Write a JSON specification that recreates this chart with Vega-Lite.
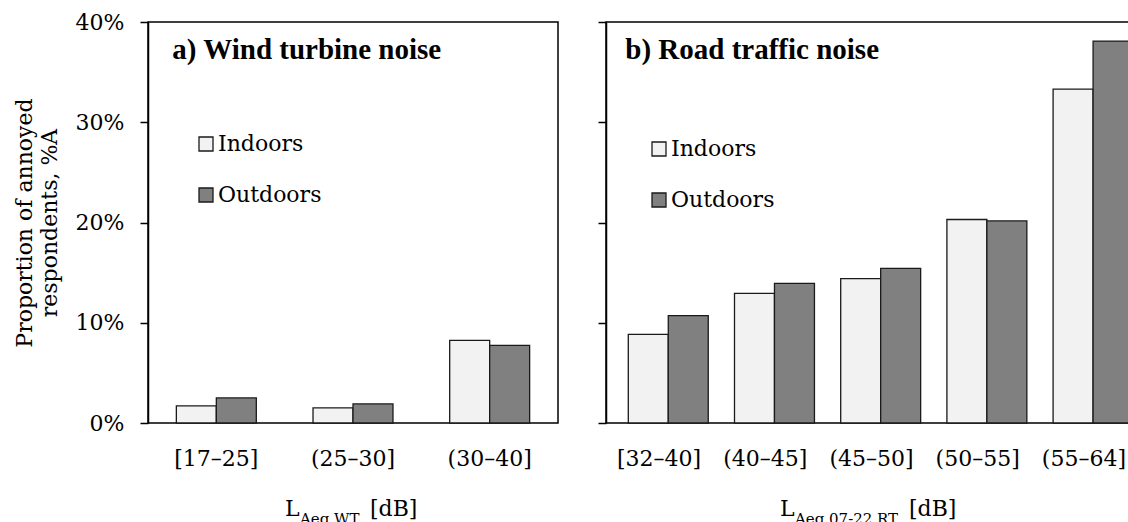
{
  "$schema": "https://vega.github.io/schema/vega-lite/v6.json",
  "padding": {"left": 12, "top": 10, "right": 0, "bottom": 0},
  "background": "white",
  "config": {
    "font": "DejaVu Serif",
    "view": {"stroke": "black", "strokeWidth": 1.5},
    "axis": {
      "grid": false,
      "domainColor": "black",
      "domainWidth": 1.5,
      "tickColor": "black",
      "tickWidth": 1.5,
      "labelColor": "black",
      "titleColor": "black",
      "labelFont": "DejaVu Serif",
      "titleFont": "DejaVu Serif",
      "labelFontSize": 22,
      "titleFontSize": 22,
      "titleFontWeight": "normal"
    },
    "legend": {
      "labelFont": "DejaVu Serif",
      "labelFontSize": 22,
      "labelColor": "black"
    },
    "title": {"font": "DejaVu Serif", "color": "black", "fontWeight": "normal"}
  },
  "datasets": {
    "bars": [
      {"panel": "a", "cat": "[17–25]", "loc": "Indoors", "val": 0.017},
      {"panel": "a", "cat": "[17–25]", "loc": "Outdoors", "val": 0.025},
      {"panel": "a", "cat": "(25–30]", "loc": "Indoors", "val": 0.015},
      {"panel": "a", "cat": "(25–30]", "loc": "Outdoors", "val": 0.019},
      {"panel": "a", "cat": "(30–40]", "loc": "Indoors", "val": 0.0825},
      {"panel": "a", "cat": "(30–40]", "loc": "Outdoors", "val": 0.0775},
      {"panel": "b", "cat": "[32–40]", "loc": "Indoors", "val": 0.0885},
      {"panel": "b", "cat": "[32–40]", "loc": "Outdoors", "val": 0.1072},
      {"panel": "b", "cat": "(40–45]", "loc": "Indoors", "val": 0.1294},
      {"panel": "b", "cat": "(40–45]", "loc": "Outdoors", "val": 0.1392},
      {"panel": "b", "cat": "(45–50]", "loc": "Indoors", "val": 0.1441},
      {"panel": "b", "cat": "(45–50]", "loc": "Outdoors", "val": 0.1542},
      {"panel": "b", "cat": "(50–55]", "loc": "Indoors", "val": 0.2030},
      {"panel": "b", "cat": "(50–55]", "loc": "Outdoors", "val": 0.2016},
      {"panel": "b", "cat": "(55–64]", "loc": "Indoors", "val": 0.333},
      {"panel": "b", "cat": "(55–64]", "loc": "Outdoors", "val": 0.381}
    ]
  },
  "spacing": 37,
  "resolve": {"scale": {"x": "independent", "y": "independent", "color": "independent"}, "legend": {"color": "independent"}},
  "hconcat": [
    {
      "width": 410,
      "height": 401,
      "title": {
        "text": "L\u2003\u2003\u2003\u2009[dB]",
        "subtitle": "\u200b\u2003Aeq,WT",
        "orient": "bottom",
        "anchor": "start",
        "frame": "group",
        "dx": 137,
        "offset": 30,
        "fontSize": 22,
        "subtitleFontSize": 15,
        "subtitleFont": "DejaVu Serif",
        "subtitleColor": "black",
        "subtitlePadding": -9
      },
      "layer": [
        {
          "data": {"name": "bars"},
          "transform": [{"filter": "datum.panel == 'a'"}],
          "mark": {"type": "bar", "stroke": "#1a1a1a", "strokeWidth": 1.3},
          "encoding": {
            "x": {
              "field": "cat", "type": "nominal", "sort": null,
              "scale": {"paddingInner": 0.415, "paddingOuter": 0.2075},
              "axis": {"title": null, "ticks": false, "domain": false, "labelAngle": 0, "labelPadding": 25, "labelOverlap": false}
            },
            "xOffset": {"field": "loc", "type": "nominal", "sort": ["Indoors", "Outdoors"]},
            "y": {
              "field": "val", "type": "quantitative",
              "scale": {"domain": [0, 0.4], "nice": false},
              "axis": {
                "values": [0, 0.1, 0.2, 0.3, 0.4], "format": ".0%",
                "tickSize": 8, "labelPadding": 16,
                "title": ["Proportion of annoyed", "respondents, %A"],
                "titleLineHeight": 25, "titlePadding": 14
              }
            },
            "color": {
              "field": "loc", "type": "nominal",
              "scale": {"domain": ["Indoors", "Outdoors"], "range": ["#f2f2f2", "#808080"]},
              "legend": {
                "title": null, "orient": "none", "legendX": 47, "legendY": 111,
                "symbolType": "square", "symbolSize": 196, "symbolStrokeColor": "#1a1a1a",
                "symbolStrokeWidth": 1.3, "symbolOpacity": 1, "labelOffset": 1, "rowPadding": 29
              }
            }
          }
        },
        {
          "data": {"values": [{"label": "a) Wind turbine noise"}]},
          "mark": {"type": "text", "align": "left", "baseline": "alphabetic", "font": "Liberation Serif", "fontWeight": "bold", "fontSize": 29, "dx": -4, "color": "black"},
          "encoding": {
            "x": {"datum": "[17–25]", "type": "nominal", "bandPosition": 0},
            "y": {"datum": 0.363, "type": "quantitative"},
            "text": {"field": "label"}
          }
        }
      ]
    },
    {
      "width": 531,
      "height": 401,
      "title": {
        "text": "L\u2003\u2003\u2003\u2003\u2003\u2009[dB]",
        "subtitle": "\u200b\u2003Aeq,07-22,RT",
        "orient": "bottom",
        "anchor": "start",
        "frame": "group",
        "dx": 174,
        "offset": 30,
        "fontSize": 22,
        "subtitleFontSize": 15,
        "subtitleFont": "DejaVu Serif",
        "subtitleColor": "black",
        "subtitlePadding": -9
      },
      "layer": [
        {
          "data": {"name": "bars"},
          "transform": [{"filter": "datum.panel == 'b'"}],
          "mark": {"type": "bar", "stroke": "#1a1a1a", "strokeWidth": 1.3},
          "encoding": {
            "x": {
              "field": "cat", "type": "nominal", "sort": null,
              "scale": {"paddingInner": 0.42, "paddingOuter": 0.21},
              "axis": {"title": null, "ticks": false, "domain": false, "labelAngle": 0, "labelPadding": 25, "labelOverlap": false}
            },
            "xOffset": {"field": "loc", "type": "nominal", "sort": ["Indoors", "Outdoors"]},
            "y": {
              "field": "val", "type": "quantitative",
              "scale": {"domain": [0, 0.4], "nice": false},
              "axis": {"values": [0, 0.1, 0.2, 0.3, 0.4], "labels": false, "tickSize": 8, "title": null}
            },
            "color": {
              "field": "loc", "type": "nominal",
              "scale": {"domain": ["Indoors", "Outdoors"], "range": ["#f2f2f2", "#808080"]},
              "legend": {
                "title": null, "orient": "none", "legendX": 42, "legendY": 116,
                "symbolType": "square", "symbolSize": 196, "symbolStrokeColor": "#1a1a1a",
                "symbolStrokeWidth": 1.3, "symbolOpacity": 1, "labelOffset": 1, "rowPadding": 29
              }
            }
          }
        },
        {
          "data": {"values": [{"label": "b) Road traffic noise"}]},
          "mark": {"type": "text", "align": "left", "baseline": "alphabetic", "font": "Liberation Serif", "fontWeight": "bold", "fontSize": 29, "dx": -3, "color": "black"},
          "encoding": {
            "x": {"datum": "[32–40]", "type": "nominal", "bandPosition": 0},
            "y": {"datum": 0.363, "type": "quantitative"},
            "text": {"field": "label"}
          }
        }
      ]
    }
  ]
}
